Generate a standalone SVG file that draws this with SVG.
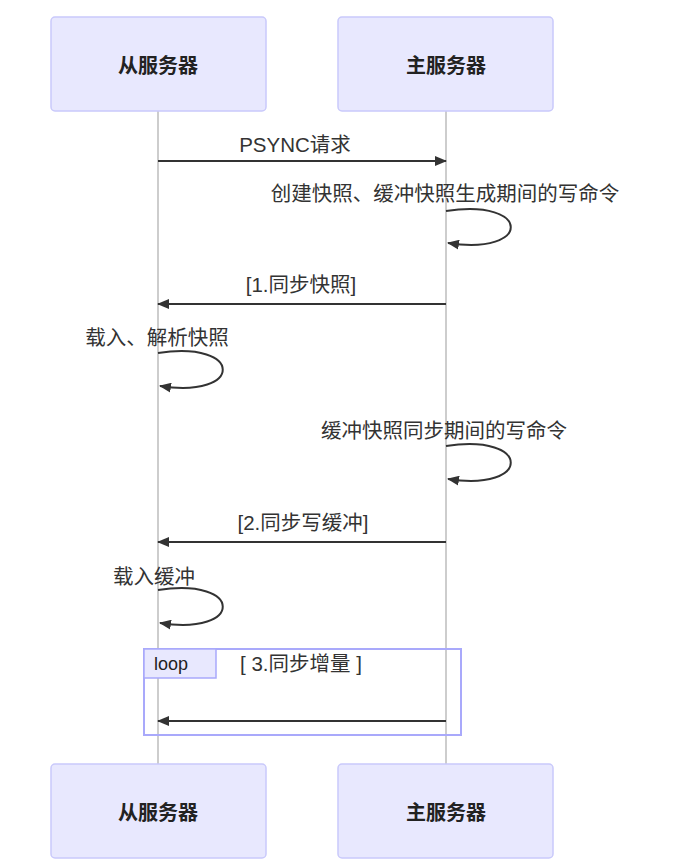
<svg xmlns="http://www.w3.org/2000/svg" width="674" height="865" viewBox="0 0 674 865">
<style>
.actor{fill:#e8e8fe;stroke:#c9c9fb;stroke-width:1.5}
.atext{font-family:"Noto Sans CJK SC","Noto Sans",sans-serif;font-size:20px;font-weight:bold;fill:#222;text-anchor:middle;dominant-baseline:central}
.life{stroke:#bdbdbd;stroke-width:1.5}
.msg{stroke:#333;stroke-width:2;fill:none}
.mtext{font-family:"Liberation Sans","Noto Sans CJK SC",sans-serif;font-size:20.5px;fill:#333;text-anchor:middle}
.loopbox{fill:none;stroke:#a9a9fb;stroke-width:2}
.looplab{fill:#e8e8fe;stroke:#a9a9fb;stroke-width:1.5}
</style>
<defs>
<marker id="ah" markerWidth="12" markerHeight="10" refX="11" refY="5" orient="auto" markerUnits="userSpaceOnUse">
<path d="M0,0 L12,5 L0,10 z" fill="#333"/>
</marker>
</defs>
<rect width="674" height="865" fill="#fff"/>
<g id="lifelines">
<line class="life" x1="158" y1="111" x2="158" y2="764"/>
<line class="life" x1="446" y1="111" x2="446" y2="764"/>
</g>
<g id="actor-slave-top"><rect class="actor" x="51" y="17" width="215" height="94" rx="4"/><text class="atext" x="158" y="64">从服务器</text></g>
<g id="actor-master-top"><rect class="actor" x="338" y="17" width="215" height="94" rx="4"/><text class="atext" x="446" y="64">主服务器</text></g>
<g id="loop-block">
<rect class="loopbox" x="144" y="649" width="317" height="86"/>
<rect class="looplab" x="144" y="649" width="72" height="29"/>
<text x="154" y="670" font-family="Liberation Sans,sans-serif" font-size="18" fill="#222">loop</text>
<text class="mtext" x="301" y="671" fill="#222">[ 3.同步增量 ]</text>
</g>
<g id="connectors">
<line class="msg" x1="158" y1="161" x2="446" y2="161" marker-end="url(#ah)"/>
<text class="mtext" x="295" y="152">PSYNC请求</text>
<path class="msg" d="M446,211 C532,198 532,256 448,243" marker-end="url(#ah)"/>
<text class="mtext" x="445" y="201">创建快照、缓冲快照生成期间的写命令</text>
<line class="msg" x1="446" y1="304" x2="158" y2="304" marker-end="url(#ah)"/>
<text class="mtext" x="301" y="292">[1.同步快照]</text>
<path class="msg" d="M158,353 C244,340 244,399 160,386" marker-end="url(#ah)"/>
<text class="mtext" x="157" y="345">载入、解析快照</text>
<path class="msg" d="M446,446 C532,433 532,492 448,479" marker-end="url(#ah)"/>
<text class="mtext" x="444" y="438">缓冲快照同步期间的写命令</text>
<line class="msg" x1="446" y1="542" x2="158" y2="542" marker-end="url(#ah)"/>
<text class="mtext" x="303" y="530">[2.同步写缓冲]</text>
<path class="msg" d="M158,590 C244,577 244,636 160,623" marker-end="url(#ah)"/>
<text class="mtext" x="154" y="584">载入缓冲</text>
<line class="msg" x1="446" y1="721" x2="158" y2="721" marker-end="url(#ah)"/>
</g>
<g id="actor-slave-bottom"><rect class="actor" x="51" y="764" width="215" height="94" rx="4"/><text class="atext" x="158" y="811">从服务器</text></g>
<g id="actor-master-bottom"><rect class="actor" x="338" y="764" width="215" height="94" rx="4"/><text class="atext" x="446" y="811">主服务器</text></g>
</svg>
